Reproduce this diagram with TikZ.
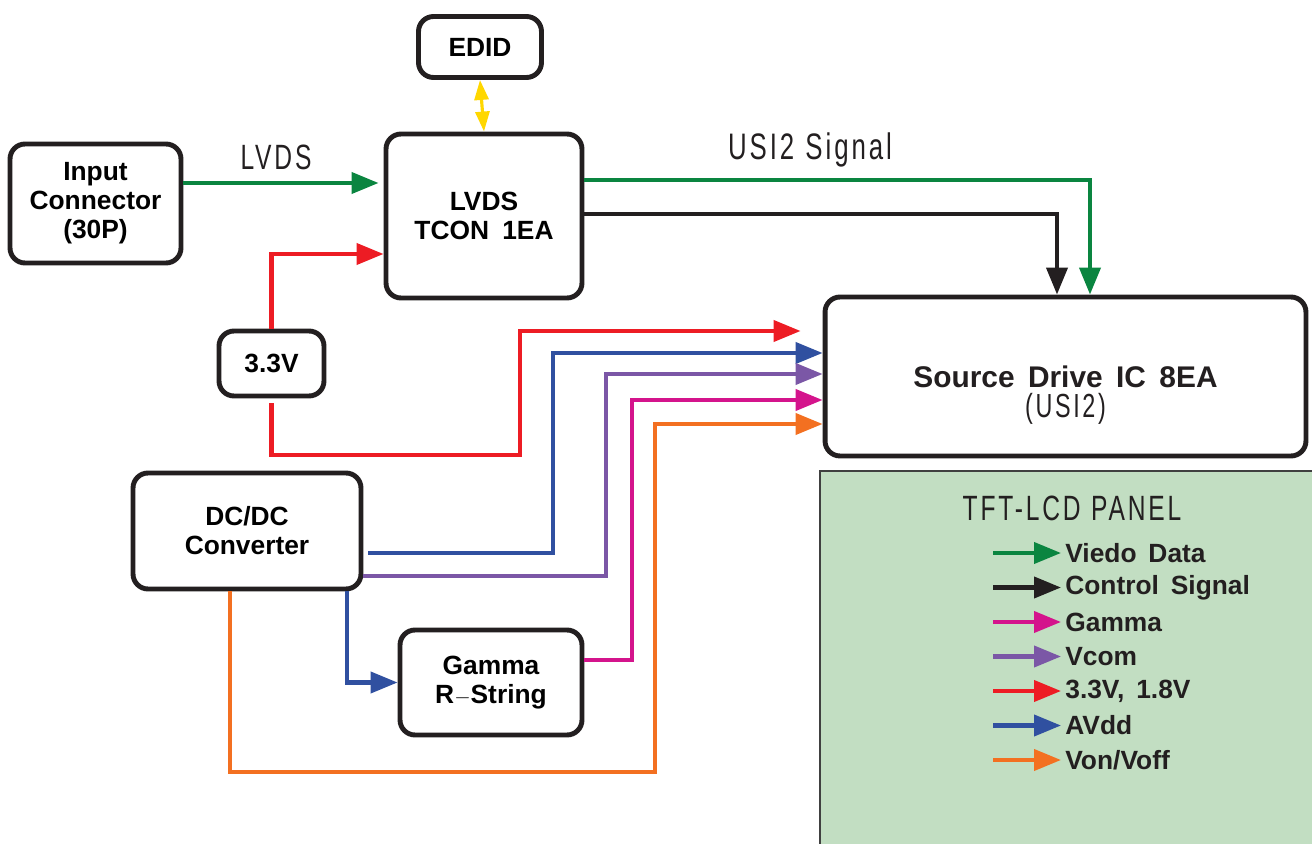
\documentclass[tikz,border=0pt]{standalone}
\usepackage{fontspec}
\setmainfont{Liberation Sans}
\newfontfamily\narrowfont[FakeStretch=0.7, LetterSpace=8]{Liberation Sans}
\usetikzlibrary{arrows.meta,positioning}
\definecolor{vgreen}{RGB}{10,133,64}
\definecolor{ctlblack}{RGB}{35,31,32}
\definecolor{gammapink}{RGB}{212,20,140}
\definecolor{vcompurple}{RGB}{123,87,166}
\definecolor{pwrred}{RGB}{237,28,36}
\definecolor{avddblue}{RGB}{48,80,160}
\definecolor{vonorange}{RGB}{243,112,33}
\definecolor{edidyellow}{RGB}{255,215,0}
\definecolor{panelgreen}{RGB}{194,222,194}

\begin{document}
\begin{tikzpicture}[x=0.02cm, y=-0.02cm,
    block/.style={draw=ctlblack, line width=2.8pt, rounded corners=0.3cm, fill=white, align=center,
                  font=\bfseries\fontsize{15}{16.5}\selectfont, inner sep=0pt},
    sig/.style={line width=2.3pt, -{Triangle[length=0.54cm, width=0.42cm]}},
    lbl/.style={font=\narrowfont\fontsize{21}{24}\selectfont, text=ctlblack},
    legtext/.style={anchor=west, font=\bfseries\fontsize{15}{17}\selectfont, text=ctlblack, inner sep=0pt}
]
\useasboundingbox (0,0) rectangle (1312,844);

% panel
\fill[panelgreen] (820,471) rectangle (1312,844);
\draw[black!75, line width=1.3pt] (820,844) -- (820,471) -- (1312,471);
\node[lbl, font=\narrowfont\fontsize{20}{24}\selectfont] (ptitle) at (1072,508) {TFT-LCD\hspace{0.3em}PANEL};

% blocks
\node[block, minimum width=2.46cm, minimum height=1.22cm] (edid) at (480,47) {EDID};
\node[block, minimum width=3.42cm, minimum height=2.38cm] (inconn) at (95.5,203.5) {Input\\Connector\\(30P)};
\node[block, minimum width=3.92cm, minimum height=3.28cm] (tcon) at (484,216) {LVDS\\TCON\hspace{0.5em}1EA};
\node[block, minimum width=2.1cm, minimum height=1.3cm] (vsrc) at (271.5,363.5) {3.3V};
\node[block, minimum width=9.62cm, minimum height=3.18cm] (sdic) at (1065.5,376.5) {};
\node[align=center, font=\bfseries\fontsize{17}{19}\selectfont, text=ctlblack] (sdictext) at ([yshift=-0.38cm]sdic.center)
    {Source\hspace{0.45em}Drive\hspace{0.45em}IC\hspace{0.45em}8EA\\[-2pt]{\mdseries\narrowfont\fontsize{19}{20}\selectfont(USI2)}};
\node[block, minimum width=4.56cm, minimum height=2.32cm] (dcdc) at (247,531) {DC/DC\\Converter};
\node[block, minimum width=3.64cm, minimum height=2.1cm] (gamma) at (491,682.5) {Gamma\\R{\fontsize{12}{12}\selectfont$-$}String};

% labels
\node[lbl, font=\narrowfont\fontsize{20}{22}\selectfont] (lvdslbl) at (276,157) {LVDS};
\node[lbl] (usilbl) at (810,150) {USI2\hspace{0.3em}Signal};

% connectors
\draw[edidyellow, line width=1.8pt, {Triangle[length=0.4cm, width=0.28cm]}-{Triangle[length=0.4cm, width=0.28cm]}]
    (edid.south) -- (tcon.north);
\draw[sig, vgreen] (inconn.east |- 0,183) -- ([xshift=-0.1cm]tcon.west |- 0,183);
\draw[sig, pwrred] (vsrc.north) |- (tcon.west |- 0,254);
\draw[sig, vgreen] (tcon.east |- 0,180) -| (sdic.north -| 1090,0);
\draw[sig, ctlblack] (tcon.east |- 0,214) -| (sdic.north -| 1057,0);
\draw[sig, pwrred, shorten >=0.44cm] ([yshift=-0.1cm]vsrc.south) -- (vsrc.south |- 0,455) -| (520,331) -- (sdic.west |- 0,331);
\draw[sig, avddblue] ([xshift=0.1cm]dcdc.east |- 0,553) -| (553,353) -- (sdic.west |- 0,353);
\draw[sig, vcompurple] (dcdc.east |- 0,576) -| (606,374) -- (sdic.west |- 0,374);
\draw[sig, gammapink] (gamma.east |- 0,660) -| (632,400) -- (sdic.west |- 0,400);
\draw[sig, vonorange] (dcdc.south -| 230,0) |- (655,772) |- (sdic.west |- 0,424);
\draw[sig, avddblue] (dcdc.south -| 347,0) |- (gamma.west);

% legend
\foreach \c/\t [count=\i] in {vgreen/{Viedo\hspace{0.45em}Data}, ctlblack/{Control\hspace{0.45em}Signal},
    gammapink/Gamma, vcompurple/Vcom, pwrred/{3.3V,\hspace{0.45em}1.8V}, avddblue/AVdd, vonorange/{Von/Voff}} {
    \node[legtext] (leg\i) at (1065,553+34.5*\i-34.5) {\t};
    \draw[sig, \c] ([xshift=-1.44cm]leg\i.west) -- ([xshift=-0.08cm]leg\i.west);
}
\end{tikzpicture}
\end{document}
